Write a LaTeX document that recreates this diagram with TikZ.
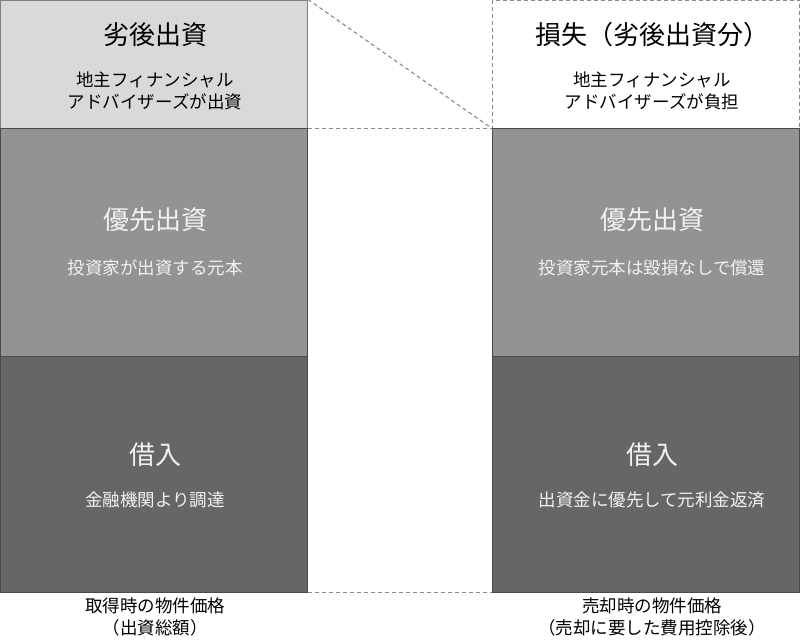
\documentclass[tikz,border=0pt]{standalone}
\usepackage{fontspec}
\setmainfont{Noto Sans CJK JP}
\definecolor{lightfill}{HTML}{D9D9D9}
\definecolor{midfill}{HTML}{939393}
\definecolor{darkfill}{HTML}{666666}
\definecolor{edgecol}{HTML}{4A4A4A}
\definecolor{dashcol}{HTML}{8A8A8A}
\definecolor{txtlight}{HTML}{F2F2F2}
\begin{document}
\begin{tikzpicture}[x=1pt,y=-1pt,
  blockbox/.style={draw=edgecol,line width=1pt,minimum width=307pt,inner sep=0pt},
  ttl/.style={font=\fontsize{26}{30}\selectfont},
  sub/.style={font=\fontsize{17.5}{22}\selectfont,align=center},
  dashline/.style={draw=dashcol,line width=1.1pt,dash pattern=on 4pt off 3pt}]
\useasboundingbox (0,0) rectangle (800,640);
% left column
\node[blockbox,fill=lightfill,draw=gray,minimum height=128pt] (L1) at (154,64) {};
\node[blockbox,fill=midfill,minimum height=228pt] (L2) at (154,242) {};
\node[blockbox,fill=darkfill,minimum height=236pt] (L3) at (154,474) {};
% right column
\node[blockbox,draw=dashcol,dash pattern=on 4pt off 3pt,minimum height=128pt] (R1) at (646,64) {};
\node[blockbox,fill=midfill,minimum height=228pt] (R2) at (646,242) {};
\node[blockbox,fill=darkfill,minimum height=236pt] (R3) at (646,474) {};
% dashed connectors
\draw[dashline] (L1.north east) -- (R1.south west);
\draw[dashline] (L1.south east) -- (R1.south west);
\draw[dashline] (L3.south east) -- (R3.south west);
% texts left
\node[ttl] (t1) at (155,35) {劣後出資};
\node[sub] (s1) at (155,91) {地主フィナンシャル\\アドバイザーズが出資};
\node[ttl,text=txtlight] (t2) at (155,220) {優先出資};
\node[sub,text=txtlight] (s2) at (155,268) {投資家が出資する元本};
\node[ttl,text=txtlight] (t3) at (155,455) {借入};
\node[sub,text=txtlight] (s3) at (155,500) {金融機関より調達};
% texts right
\node[ttl] (t4) at (652,35) {損失（劣後出資分）};
\node[sub] (s4) at (652,91) {地主フィナンシャル\\アドバイザーズが負担};
\node[ttl,text=txtlight] (t5) at (652,220) {優先出資};
\node[sub,text=txtlight] (s5) at (652,268) {投資家元本は毀損なしで償還};
\node[ttl,text=txtlight] (t6) at (652,455) {借入};
\node[sub,text=txtlight] (s6) at (652,500) {出資金に優先して元利金返済};
% bottom labels
\node[sub] (b1) at (155,617) {取得時の物件価格\\（出資総額）};
\node[sub] (b2) at (652,617) {売却時の物件価格\\（売却に要した費用控除後）};
\end{tikzpicture}
\end{document}
